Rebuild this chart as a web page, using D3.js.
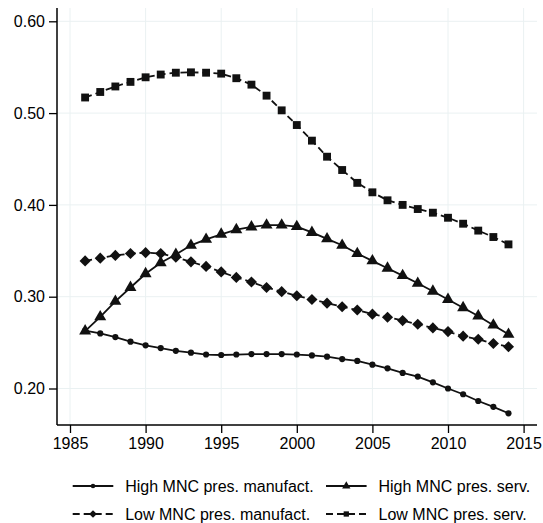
<!DOCTYPE html>
<html>
<head>
<meta charset="utf-8">
<script src="https://cdn.jsdelivr.net/npm/d3@7"></script>
<style>
  html, body { margin: 0; padding: 0; background: #fff; }
  svg { display: block; font-family: "Liberation Sans", Arial, sans-serif; }
</style>
</head>
<body>
<svg id="chart" width="543" height="523"></svg>
<script>
// ── DATA ───────────────────────────────────────────────────────────────────
const years = d3.range(1986, 2015);

const highManuf = [0.263, 0.260, 0.256, 0.251, 0.247, 0.244, 0.241, 0.239, 0.237, 0.2365,
                   0.237, 0.2375, 0.2375, 0.2375, 0.237, 0.236, 0.2347, 0.232, 0.230, 0.226,
                   0.222, 0.217, 0.213, 0.2067, 0.200, 0.1937, 0.1864, 0.180, 0.173];
const highServ  = [0.2626, 0.278, 0.295, 0.310, 0.325, 0.337, 0.346, 0.356, 0.3625, 0.368,
                   0.373, 0.376, 0.378, 0.378, 0.3763, 0.370, 0.363, 0.356, 0.347, 0.339,
                   0.331, 0.323, 0.3146, 0.306, 0.297, 0.288, 0.279, 0.269, 0.259];
const lowManuf  = [0.339, 0.342, 0.345, 0.347, 0.348, 0.347, 0.343, 0.338, 0.333, 0.327,
                   0.321, 0.316, 0.310, 0.3055, 0.301, 0.297, 0.293, 0.289, 0.2855, 0.281,
                   0.2776, 0.274, 0.270, 0.266, 0.262, 0.257, 0.2536, 0.249, 0.2455];
const lowServ   = [0.517, 0.523, 0.529, 0.534, 0.539, 0.542, 0.544, 0.5444, 0.544, 0.543,
                   0.538, 0.531, 0.519, 0.503, 0.487, 0.470, 0.4525, 0.438, 0.424, 0.4137,
                   0.405, 0.400, 0.3955, 0.3915, 0.386, 0.3795, 0.372, 0.365, 0.357];

const xTicks = [1985, 1990, 1995, 2000, 2005, 2010, 2015];
const yTicks = [0.2, 0.3, 0.4, 0.5, 0.6];

const seriesNames = ['High MNC pres. manufact.', 'High MNC pres. serv.',
                     'Low MNC pres. manufact.', 'Low MNC pres. serv.'];

// ── LAYOUT ─────────────────────────────────────────────────────────────────
const plot = { left: 57, right: 537, top: 8, bottom: 425 };
const GRID = '#eaf1f2';
const FONT = '16px';

const svg = d3.select('#chart');

const x = d3.scaleLinear().domain([1985, 2015]).range([70, 523.6]);
const y = d3.scaleLinear().domain([0.2, 0.6]).range([388.5, 21.3]);

// square turned 45° — d3's own diamond is too narrow
const diamond = {
  draw(ctx, size) {
    const r = Math.sqrt(size / 2);
    ctx.moveTo(0, -r); ctx.lineTo(r, 0); ctx.lineTo(0, r); ctx.lineTo(-r, 0); ctx.closePath();
  }
};

const series = [
  { name: seriesNames[0], values: highManuf, dash: null,  symbol: d3.symbolCircle,   size: 30, lsize: 16 },
  { name: seriesNames[1], values: highServ,  dash: null,  symbol: d3.symbolTriangle, size: 62, lsize: 30 },
  { name: seriesNames[2], values: lowManuf,  dash: '7,4', symbol: diamond,           size: 62, lsize: 30 },
  { name: seriesNames[3], values: lowServ,   dash: '7,4', symbol: d3.symbolSquare,   size: 62, lsize: 28 },
];

// ── GRID ───────────────────────────────────────────────────────────────────
const grid = svg.append('g');
grid.selectAll('line.v').data(xTicks).enter().append('line')
  .attr('x1', d => x(d)).attr('x2', d => x(d))
  .attr('y1', plot.top).attr('y2', plot.bottom)
  .attr('stroke', GRID).attr('stroke-width', 1);
grid.selectAll('line.h').data(yTicks).enter().append('line')
  .attr('x1', plot.left).attr('x2', plot.right)
  .attr('y1', d => y(d)).attr('y2', d => y(d))
  .attr('stroke', GRID).attr('stroke-width', 1);

// ── AXES ───────────────────────────────────────────────────────────────────
const yAxis = svg.append('g')
  .attr('transform', `translate(${plot.left},0)`)
  .call(d3.axisLeft(y).tickValues(yTicks).tickFormat(d3.format('.2f')).tickSize(8).tickPadding(4));
const xAxis = svg.append('g')
  .attr('transform', `translate(0,${plot.bottom})`)
  .call(d3.axisBottom(x).tickValues(xTicks).tickFormat(d3.format('d')).tickSize(8).tickPadding(5));

[yAxis, xAxis].forEach(a => {
  a.select('.domain').remove();
  a.selectAll('.tick line').attr('stroke', '#000').attr('stroke-width', 1.3);
  a.selectAll('.tick text').attr('fill', '#000').style('font-size', FONT)
    .style('font-family', '"Liberation Sans", Arial, sans-serif');
});

svg.append('line')
  .attr('x1', plot.left).attr('x2', plot.left)
  .attr('y1', plot.top).attr('y2', plot.bottom)
  .attr('stroke', '#000').attr('stroke-width', 1.5);
svg.append('line')
  .attr('x1', plot.left).attr('x2', plot.right)
  .attr('y1', plot.bottom).attr('y2', plot.bottom)
  .attr('stroke', '#000').attr('stroke-width', 1.5);

// ── SERIES ─────────────────────────────────────────────────────────────────
const line = d3.line().x((d, i) => x(years[i])).y(d => y(d));

series.forEach(s => {
  const g = svg.append('g');
  g.append('path')
    .attr('d', line(s.values))
    .attr('fill', 'none')
    .attr('stroke', '#111')
    .attr('stroke-width', 1.8)
    .attr('stroke-dasharray', s.dash);
  g.selectAll('path.m').data(s.values).enter().append('path')
    .attr('class', 'm')
    .attr('transform', (d, i) => `translate(${x(years[i])},${y(d)})`)
    .attr('d', d3.symbol().type(s.symbol).size(s.size))
    .attr('fill', '#111');
});

// ── LEGEND ─────────────────────────────────────────────────────────────────
const legendPos = [
  { x: 72.7, y: 486 }, { x: 326, y: 486 },
  { x: 72.7, y: 514 }, { x: 326, y: 514 },
];

series.forEach((s, i) => {
  const p = legendPos[i];
  const g = svg.append('g').attr('transform', `translate(${p.x},${p.y})`);
  g.append('line')
    .attr('x1', 0).attr('x2', 40.6)
    .attr('stroke', '#111').attr('stroke-width', 1.8)
    .attr('stroke-dasharray', s.dash);
  g.append('path')
    .attr('transform', 'translate(20.3,0)')
    .attr('d', d3.symbol().type(s.symbol).size(s.lsize))
    .attr('fill', '#111');
  g.append('text')
    .attr('x', 52.5).attr('dy', '0.35em')
    .style('font-size', FONT)
    .attr('fill', '#000')
    .text(s.name);
});
</script>
</body>
</html>
